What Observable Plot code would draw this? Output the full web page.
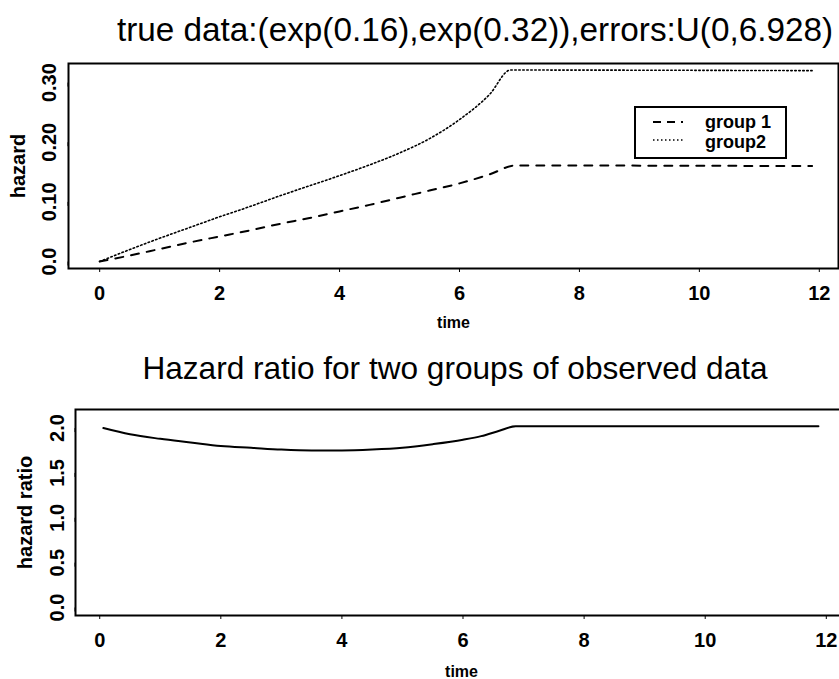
<!DOCTYPE html>
<html>
<head>
<meta charset="utf-8">
<script src="https://cdn.jsdelivr.net/npm/d3@7"></script>
<script src="https://cdn.jsdelivr.net/npm/@observablehq/plot@0.6"></script>
<style>
  html, body { margin: 0; padding: 0; background: #fff; overflow: hidden; }
  #page { position: relative; width: 839px; height: 679px; overflow: hidden; background: #fff;
          font-family: "Liberation Sans", Arial, Helvetica, sans-serif; color: #000; }
  .title { position: absolute; text-align: center; line-height: 36px; white-space: nowrap; z-index: 2; }
  .panel { position: absolute; left: 0; width: 839px; overflow: hidden; z-index: 1; }
  #legend { position: absolute; z-index: 3; }
</style>
</head>
<body>
<div id="page">
  <div class="panel" id="top" style="top:0;height:340px;"></div>
  <div class="panel" id="bottom" style="top:340px;height:339px;"></div>
  <div class="title" style="left:75px;width:800px;top:12px;font-size:33.3px;">true data:(exp(0.16),exp(0.32)),errors:U(0,6.928)</div>
  <div class="title" style="left:55px;width:800px;top:350px;font-size:31.6px;">Hazard ratio for two groups of observed data</div>
</div>
<script>
// hazard curves for the two groups
const group1Time   = [0, 0.5, 1, 1.5, 2, 2.5, 3, 3.5, 4, 4.5, 5, 5.5, 6, 6.5, 6.93, 11.88];
const group1Hazard = [0, 0.010, 0.021, 0.032, 0.042, 0.052, 0.063, 0.073, 0.084, 0.095, 0.107, 0.119, 0.131, 0.146, 0.161, 0.160];
const group2Time   = [0, 0.5, 1, 1.5, 2, 2.5, 3, 3.5, 4, 4.5, 5, 5.5, 6, 6.5, 6.85, 11.88];
const group2Hazard = [0, 0.020, 0.039, 0.057, 0.075, 0.092, 0.110, 0.127, 0.144, 0.162, 0.182, 0.206, 0.238, 0.280, 0.321, 0.320];

// hazard ratio group2 / group1
const ratioTime  = [0.06, 0.5, 1, 1.5, 2, 2.5, 3, 3.5, 4, 4.5, 5, 5.5, 6, 6.3, 6.6, 6.87, 11.87];
const ratioValue = [2.00, 1.93, 1.88, 1.84, 1.80, 1.78, 1.76, 1.75, 1.75, 1.76, 1.78, 1.82, 1.87, 1.91, 1.97, 2.02, 2.02];

const timeTicks   = [0, 2, 4, 6, 8, 10, 12];
const hazardTicks = [0, 0.1, 0.2, 0.3];
const ratioTicks  = [0, 0.5, 1, 1.5, 2];
const legendLabels = ["group 1", "group2"];

const FONT = '"Liberation Sans", Arial, Helvetica, sans-serif';
const g1 = group1Time.map((t, i) => ({t, h: group1Hazard[i]}));
const g2 = group2Time.map((t, i) => ({t, h: group2Hazard[i]}));
const hr = ratioTime.map((t, i) => ({t, r: ratioValue[i]}));

const tickFont = {fontSize: 20, fontWeight: "bold", fontFamily: FONT};

const topPlot = Plot.plot({
  width: 839, height: 340,
  marginTop: 63, marginBottom: 72, marginLeft: 68, marginRight: 1,
  style: {fontFamily: FONT, background: "transparent", overflow: "hidden"},
  x: {domain: [-0.52, 12.32]},
  y: {domain: [-0.0117, 0.332]},
  marks: [
    Plot.frame({stroke: "black", strokeWidth: 2}),
    Plot.axisX(timeTicks, {tickSize: 4, tickPadding: 13, label: null, ...tickFont}),
    Plot.axisY(hazardTicks, {tickSize: 4, tickPadding: 9, label: null, rotate: -90,
      textAnchor: "middle", lineAnchor: "bottom",
      tickFormat: d => d === 0 ? "0.0" : d.toFixed(2), ...tickFont}),
    Plot.text(["time"], {frameAnchor: "bottom", dy: 54, lineAnchor: "middle",
      fontSize: 16, fontWeight: "bold", fontFamily: FONT}),
    Plot.text(["hazard"], {frameAnchor: "left", dx: -50, rotate: -90,
      textAnchor: "middle", lineAnchor: "middle",
      fontSize: 20, fontWeight: "bold", fontFamily: FONT}),
    Plot.line(g1, {x: "t", y: "h", curve: "monotone-x", stroke: "black", strokeWidth: 2,
      strokeDasharray: "8,8"}),
    Plot.line(g2, {x: "t", y: "h", curve: "monotone-x", stroke: "black", strokeWidth: 1.6,
      strokeDasharray: "1.5,2.5"})
  ]
});
document.getElementById("top").appendChild(topPlot);

const bottomPlot = Plot.plot({
  width: 839, height: 339,
  marginTop: 69, marginBottom: 64, marginLeft: 75, marginRight: -8,
  style: {fontFamily: FONT, background: "transparent", overflow: "hidden"},
  x: {domain: [-0.40, 12.35]},
  y: {domain: [-0.089, 2.207]},
  marks: [
    Plot.frame({stroke: "black", strokeWidth: 2}),
    Plot.axisX(timeTicks, {tickSize: 4, tickPadding: 13, label: null, ...tickFont}),
    Plot.axisY(ratioTicks, {tickSize: 4, tickPadding: 8, label: null, rotate: -90,
      textAnchor: "middle", lineAnchor: "bottom",
      tickFormat: d => d.toFixed(1), ...tickFont}),
    Plot.text(["time"], {frameAnchor: "bottom", dy: 56, lineAnchor: "middle",
      fontSize: 16, fontWeight: "bold", fontFamily: FONT}),
    Plot.text(["hazard ratio"], {frameAnchor: "left", dx: -50, rotate: -90,
      textAnchor: "middle", lineAnchor: "middle",
      fontSize: 20, fontWeight: "bold", fontFamily: FONT}),
    Plot.line(hr, {x: "t", y: "r", curve: "monotone-x", stroke: "black", strokeWidth: 2})
  ]
});
document.getElementById("bottom").appendChild(bottomPlot);

// legend box for the two line styles
const legend = d3.select("#page").append("svg")
  .attr("id", "legend")
  .attr("width", 154).attr("height", 54)
  .style("left", "634px").style("top", "106px");
legend.append("rect").attr("x", 1).attr("y", 1).attr("width", 151).attr("height", 51)
  .attr("fill", "white").attr("stroke", "black").attr("stroke-width", 2);
const dashes = ["8,6", "1.5,2.5"];
const widths = [2, 1.6];
legendLabels.forEach((label, i) => {
  legend.append("line").attr("x1", 19).attr("x2", 49)
    .attr("y1", 16 + i * 18).attr("y2", 16 + i * 18)
    .attr("stroke", "black").attr("stroke-width", widths[i]).attr("stroke-dasharray", dashes[i]);
  legend.append("text").attr("x", 71).attr("y", 22 + i * 20)
    .attr("font-family", FONT).attr("font-size", 18).attr("font-weight", "bold").text(label);
});
</script>
</body>
</html>
